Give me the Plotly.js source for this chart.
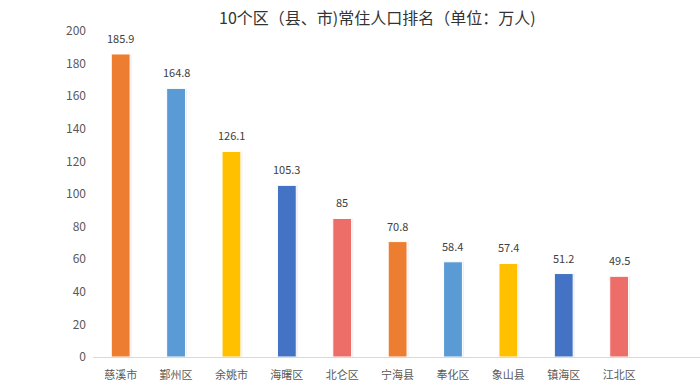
<!DOCTYPE html>
<html>
<head>
<meta charset="utf-8">
<script src="https://cdn.plot.ly/plotly-3.0.1.min.js"></script>
<style>html,body{margin:0;padding:0;background:#fff;}#chart{width:700px;height:386px;}</style>
</head>
<body>
<div id="chart"></div>
<script>
const categories = ['慈溪市','鄞州区','余姚市','海曙区','北仑区','宁海县','奉化区','象山县','镇海区','江北区'];
const population = [185.9, 164.8, 126.1, 105.3, 85, 70.8, 58.4, 57.4, 51.2, 49.5];
const barColors = ['#ED7D31','#5B9BD5','#FFC000','#4472C4','#ED6E69','#ED7D31','#5B9BD5','#FFC000','#4472C4','#ED6E69'];
const yTicks = [0,20,40,60,80,100,120,140,160,180,200];

const font = '"Noto Sans CJK SC", "Noto Sans", sans-serif';

const shadow = {
  type: 'bar', x: categories, y: population,
  width: 0.37, offset: -0.17,
  marker: {color: 'rgba(0,0,0,0.06)'},
  hoverinfo: 'skip', showlegend: false
};
const bars = {
  type: 'bar', x: categories, y: population,
  width: 0.34, offset: -0.17,
  marker: {color: barColors, line: {color: '#ffffff', width: 1}},
  showlegend: false
};

const labels = categories.map((c, i) => ({
  x: c, y: population[i], xref: 'x', yref: 'y',
  text: String(population[i]), showarrow: false,
  yanchor: 'bottom', yshift: 6,
  font: {family: font, size: 11, color: '#404040'}
}));

const layout = {
  width: 700, height: 386,
  margin: {l: 93, r: 0, t: 31, b: 29},
  paper_bgcolor: '#ffffff', plot_bgcolor: '#ffffff',
  barmode: 'overlay',
  title: {text: '10个区（县、市)常住人口排名（单位：万人)', x: 0.539, xanchor: 'center', y: 0.953, yanchor: 'middle',
          font: {family: font, size: 16, color: '#333333'}},
  annotations: labels,
  xaxis: {type: 'category', range: [-0.5, 10.46], showgrid: false, showline: true, linecolor: '#D9D9D9', linewidth: 1,
          ticks: '', ticklabelstandoff: 8, tickfont: {family: font, size: 11, color: '#595959'}, fixedrange: true, zeroline: false},
  yaxis: {range: [0, 200], tickvals: yTicks, showgrid: false, showline: false, zeroline: false, ticks: '',
          ticklabelstandoff: 6,
          tickfont: {family: font, size: 12, color: '#595959'}, fixedrange: true}
};

Plotly.newPlot('chart', [shadow, bars], layout, {displayModeBar: false, staticPlot: true});
</script>
</body>
</html>
